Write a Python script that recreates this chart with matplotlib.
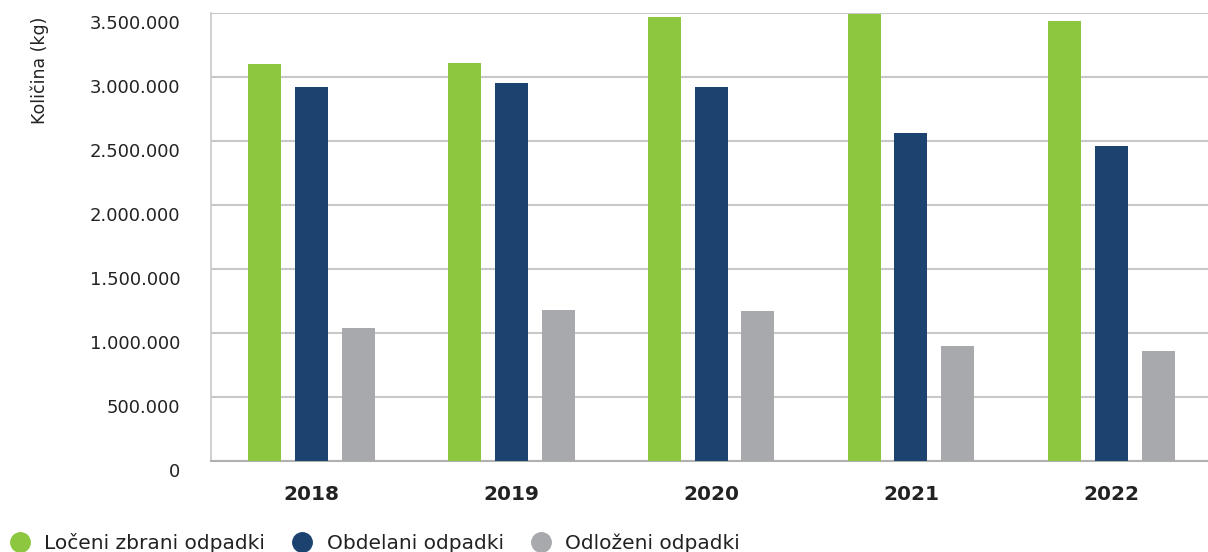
import numpy as np
import matplotlib.pyplot as plt
from matplotlib.lines import Line2D
import matplotlib.transforms as mtransforms

years = ["2018", "2019", "2020", "2021", "2022"]
loceni = [3102000, 3109000, 3469000, 3492000, 3437000]
obdelani = [2922000, 2953000, 2922000, 2562000, 2461000]
odlozeni = [1039000, 1180000, 1172000, 898000, 859000]
series_names = ["Ločeni zbrani odpadki", "Obdelani odpadki", "Odloženi odpadki"]
yticks = [0, 500000, 1000000, 1500000, 2000000, 2500000, 3000000, 3500000]

colors = ["#8dc63f", "#1c4370", "#a7a9ac"]
plt.rcParams['font.family'] = ['DejaVu Sans']


def fmt(v):
    # thousands separated by dots
    return f"{v:,}".replace(",", ".")


def main():
    fig = plt.figure(figsize=(12.08, 5.52), dpi=100)
    ax = fig.add_axes([211 / 1208, 1 - 461 / 552, 1 - 211 / 1208, (461 - 13) / 552])

    x = np.arange(len(years))
    w = 0.165
    step = 0.235
    for i, vals in enumerate([loceni, obdelani, odlozeni]):
        ax.bar(x + (i - 1) * step, vals, width=w, color=colors[i], zorder=3)

    ax.set_xlim(-0.5, 4.485)
    ax.set_ylim(0, 3500000)
    ax.set_yticks(yticks)
    ax.set_yticklabels([fmt(v) for v in yticks], fontsize=13, color="#222222")
    ax.set_xticks(x)
    ax.set_xticklabels(years, fontsize=14.5, fontweight="bold", color="#222222")
    ax.tick_params(axis="both", length=0)
    ax.tick_params(axis="y", pad=22)
    ax.tick_params(axis="x", pad=17)

    # push y labels slightly below their gridlines
    off = mtransforms.ScaledTranslation(0, -9 / 100, fig.dpi_scale_trans)
    for lab in ax.get_yticklabels():
        lab.set_transform(lab.get_transform() + off)

    ax.grid(axis="y", color="#c8c8c8", linewidth=1.5, zorder=0)
    for s in ["top", "right"]:
        ax.spines[s].set_visible(False)
    ax.spines["left"].set_color("#c8c8c8")
    ax.spines["left"].set_linewidth(1.2)
    ax.spines["bottom"].set_color("#b0b0b0")
    ax.spines["bottom"].set_linewidth(1.5)

    fig.text(40 / 1208, 1 - 70 / 552, "Količina (kg)", rotation=90, fontsize=12.5,
             ha="center", va="center", color="#222222")

    handles = [Line2D([], [], marker="o", linestyle="", markersize=14,
                      markerfacecolor=c, markeredgecolor=c) for c in colors]
    fig.legend(handles, series_names, loc="center left", ncol=3,
               bbox_to_anchor=(0.0, 1 - 543 / 552), frameon=False,
               fontsize=14.5, handletextpad=0.2, columnspacing=0.85,
               borderaxespad=0, borderpad=0, labelcolor="#222222")

    plt.savefig("out.png", dpi=100)


if __name__ == "__main__":
    main()
